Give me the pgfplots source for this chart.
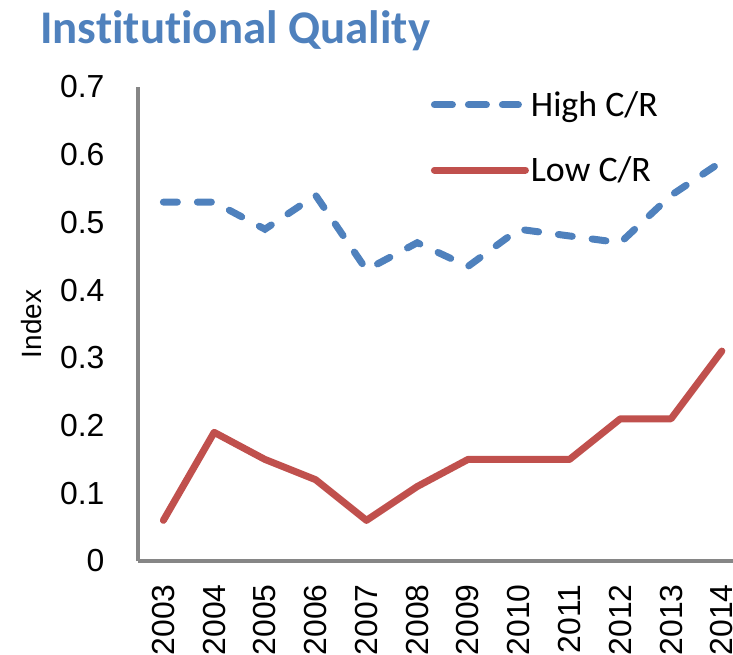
\documentclass[border=0pt]{standalone}
\usepackage{fontspec}
\setmainfont{Liberation Sans}
\newfontfamily\calibri[Ligatures=NoCommon]{Carlito}
\usepackage{pgfplots}
\pgfplotsset{compat=1.18}
\definecolor{hiblue}{RGB}{79,129,189}
\definecolor{lored}{RGB}{192,80,77}
\definecolor{axgray}{RGB}{134,134,134}
\begin{document}
\begin{tikzpicture}
\begin{axis}[
  scale only axis,
  width=595bp, height=474bp,
  xmin=-0.5, xmax=11.22,
  ymin=0, ymax=0.7,
  clip=false,
  axis lines*=left,
  axis line style={axgray, line width=3.5bp, -},
  major tick length=0pt,
  xtick={0,...,11},
  xticklabels={2003,2004,2005,2006,2007,2008,2009,2010,2011,2012,2013,2014},
  ytick={0,0.1,0.2,0.3,0.4,0.5,0.6,0.7},
  yticklabels={0,0.1,0.2,0.3,0.4,0.5,0.6,0.7},
  tick label style={font=\fontsize{32}{32}\selectfont, black},
  yticklabel style={anchor=east, xshift=-30bp},
  xticklabel style={rotate=90, anchor=east, xshift=-20bp},
  ylabel={Index},
  ylabel style={font=\fontsize{28}{28}\selectfont, at={(rel axis cs:0,0.5)}, anchor=center, yshift=106bp},
  legend style={draw=none, fill=none, at={(rel axis cs:0.492,0.995)}, anchor=north west,
    font=\calibri\fontsize{36}{36}\selectfont, row sep=35bp, inner sep=0pt, cells={anchor=west}},
  legend cell align=left,
  legend image code/.code={\draw[#1] (0bp,0bp) -- (80bp,0bp); \path (-4bp,0bp) -- (87bp,0bp);},
]
\addplot[hiblue, line width=7bp, line cap=round, dash pattern=on 14bp off 20bp] coordinates {
(0,0.53) (1,0.53) (2,0.49) (3,0.54) (4,0.43) (5,0.47) (6,0.435) (7,0.49) (8,0.48) (9,0.47) (10,0.54) (11,0.59)};
\addlegendentry{High C/R}
\addplot[lored, line width=7bp, line cap=round, line join=round] coordinates {
(0,0.06) (1,0.19) (2,0.15) (3,0.12) (4,0.06) (5,0.11) (6,0.15) (7,0.15) (8,0.15) (9,0.21) (10,0.21) (11,0.31)};
\addlegendentry{Low C/R}
\node[anchor=base west, font=\calibri\bfseries\fontsize{47}{47}\selectfont, text=hiblue, inner sep=0pt]
  at (rel axis cs:0,1) [xshift=-98bp, yshift=44bp] {Institutional Quality};
\coordinate (o) at (rel axis cs:0,0);
\end{axis}
\pgfresetboundingbox
\path (o) ++(-138bp,-94bp) rectangle ++(733bp,655bp);
\end{tikzpicture}
\end{document}
